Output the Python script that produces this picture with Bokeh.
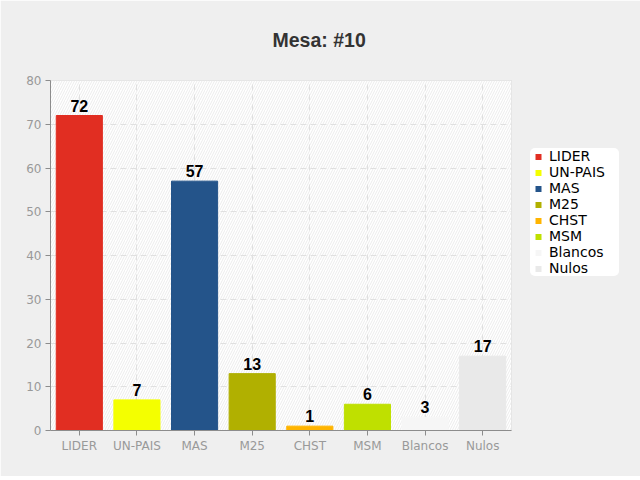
from bokeh.plotting import figure
from bokeh.models import (ColumnDataSource, LabelSet, Legend, LegendItem, Title,
                          BoxAnnotation, FactorRange, Range1d, FixedTicker)
from bokeh.core.properties import value
from bokeh.embed import file_html
from bokeh.resources import INLINE

title_text = "Mesa: #10"
categories = ["LIDER", "UN-PAIS", "MAS", "M25", "CHST", "MSM", "Blancos", "Nulos"]
votes = [72, 7, 57, 13, 1, 6, 3, 17]
colors = ["#e12e22", "#f4ff00", "#24548a", "#b1b000", "#ffb400", "#bfe000", "#f6f6f6", "#e9e9e9"]
y_ticks = [0, 10, 20, 30, 40, 50, 60, 70, 80]

src = ColumnDataSource(dict(cat=categories, v=votes, lbl=[str(v) for v in votes], col=colors))

p = figure(x_range=FactorRange(*categories, range_padding=0), y_range=Range1d(0, 80),
           frame_width=461, frame_height=350, output_backend="svg", toolbar_location=None,
           title=None, min_border_left=50, min_border_right=125,
           min_border_top=80, min_border_bottom=46)

p.border_fill_color = "#efefef"
p.background_fill_color = "#ffffff"
p.outline_line_color = "#dcdcdc"

hatch = BoxAnnotation(fill_color="#ffffff", fill_alpha=1.0, line_color=None,
                      hatch_pattern="/", hatch_color="#ececec", hatch_scale=5,
                      hatch_weight=1, level="image")
p.add_layout(hatch)

p.xgrid.grid_line_color = "#e0e0e0"
p.ygrid.grid_line_color = "#e0e0e0"
p.xgrid.grid_line_dash = "6 4"
p.ygrid.grid_line_dash = "6 4"
p.xgrid.level = "underlay"
p.ygrid.level = "underlay"

p.vbar(x="cat", top="v", width=0.8, source=src, fill_color="col", line_color="col")

labels = LabelSet(x="cat", y="v", text="lbl", source=src, text_align="center",
                  text_baseline="alphabetic", y_offset=4, text_font=value("Liberation Sans"),
                  text_font_style="bold", text_font_size="16px", text_color="#000000")
p.add_layout(labels)

p.yaxis.ticker = FixedTicker(ticks=y_ticks)
for ax in (p.xaxis[0], p.yaxis[0]):
    ax.axis_line_color = "#8c8c8c"
    ax.major_tick_line_color = "#8c8c8c"
    ax.major_tick_out = 5
    ax.major_tick_in = 0
    ax.minor_tick_line_color = None
    ax.major_label_text_color = "#999999"
    ax.major_label_text_font = "DejaVu Sans"
    ax.major_label_text_font_size = "12px"
    ax.major_label_standoff = 4
p.xaxis.major_label_standoff = 3

# legend swatches: a zero-size marker renderer over the same data (legend draws its own size)
swatch = p.scatter(x="cat", y="v", source=src, marker="square", size=0,
                   fill_color="col", line_color=None)
items = [LegendItem(label=c, renderers=[swatch], index=i) for i, c in enumerate(categories)]
legend = Legend(items=items, location=(19, 154), margin=0, padding=5, spacing=0,
                glyph_width=16, glyph_height=15, label_height=15, label_width=70,
                label_standoff=3, label_text_font="DejaVu Sans", label_text_font_size="14px",
                label_text_color="#000000", background_fill_color="#ffffff",
                background_fill_alpha=1.0, border_line_color=None)
if "border_radius" in Legend.properties():
    legend.border_radius = 5
p.add_layout(legend, "right")

title = Title(text=title_text, align="left", offset=222, standoff=56, vertical_align="top",
              text_font="Liberation Sans", text_font_style="bold",
              text_font_size="19.5px", text_color="#333333")
p.add_layout(title, "above")

open("out.html", "w").write(file_html(p, INLINE))
